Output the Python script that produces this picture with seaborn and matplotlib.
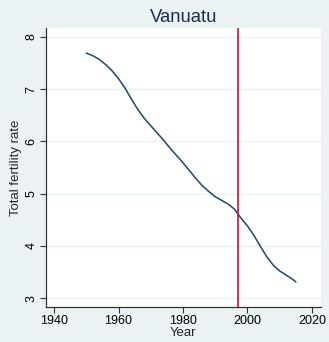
import matplotlib
matplotlib.use("Agg")
import matplotlib.pyplot as plt
import seaborn as sns
import pandas as pd

# Total fertility rate, Vanuatu
years = [1950, 1952, 1954, 1956, 1958, 1960, 1962, 1964, 1966, 1968, 1970,
         1972, 1974, 1976, 1978, 1980, 1982, 1984, 1986, 1988, 1990, 1992,
         1994, 1996, 1998, 2000, 2002, 2004, 2006, 2008, 2010, 2012, 2014, 2015]
tfr = [7.69, 7.64, 7.57, 7.47, 7.35, 7.20, 7.02, 6.81, 6.61, 6.44, 6.30,
       6.16, 6.02, 5.87, 5.73, 5.59, 5.44, 5.29, 5.15, 5.04, 4.94, 4.87,
       4.80, 4.70, 4.53, 4.38, 4.20, 3.99, 3.79, 3.63, 3.52, 3.44, 3.36, 3.31]
marker_year = 1997
x_ticks = [1940, 1960, 1980, 2000, 2020]
y_ticks = [3, 4, 5, 6, 7, 8]

df = pd.DataFrame({"Year": years, "Total fertility rate": tfr})

sns.set_theme(style="white")
plt.rcParams["font.family"] = ["Liberation Sans", "DejaVu Sans"]

bg = "#EAF2F3"
fig = plt.figure(figsize=(3.29, 3.42), dpi=100, facecolor=bg)
ax = fig.add_axes([46 / 329, 1 - 307 / 342, (321 - 46) / 329, (307 - 28) / 342])
ax.set_facecolor("white")

for y in y_ticks:
    ax.axhline(y, color=bg, lw=1.0, zorder=0)

sns.lineplot(data=df, x="Year", y="Total fertility rate", ax=ax,
             color="#1A476F", lw=1.1)
ax.axvline(marker_year, color="#D9083A", lw=1.2)

ax.set_xlim(1937.5, 2022.8)
ax.set_ylim(2.83, 8.17)
ax.set_xticks(x_ticks)
ax.set_yticks(y_ticks)
ax.set_yticklabels([str(v) for v in y_ticks], rotation=90, va="center")

for s in ["top", "right"]:
    ax.spines[s].set_visible(False)
for s in ["left", "bottom"]:
    ax.spines[s].set_color("#333333")
    ax.spines[s].set_linewidth(0.9)

ax.tick_params(axis="both", direction="out", length=4, width=0.8,
               color="#333333", labelsize=9, labelcolor="black", pad=2,
               left=True, bottom=True)
ax.set_xlabel("Year", fontsize=9.5, labelpad=0)
ax.set_ylabel("Total fertility rate", fontsize=9.5, labelpad=3)
ax.set_title("Vanuatu", fontsize=13.3, color="#1E2D4F", pad=4)

fig.savefig("out.png", dpi=100, facecolor=bg)
